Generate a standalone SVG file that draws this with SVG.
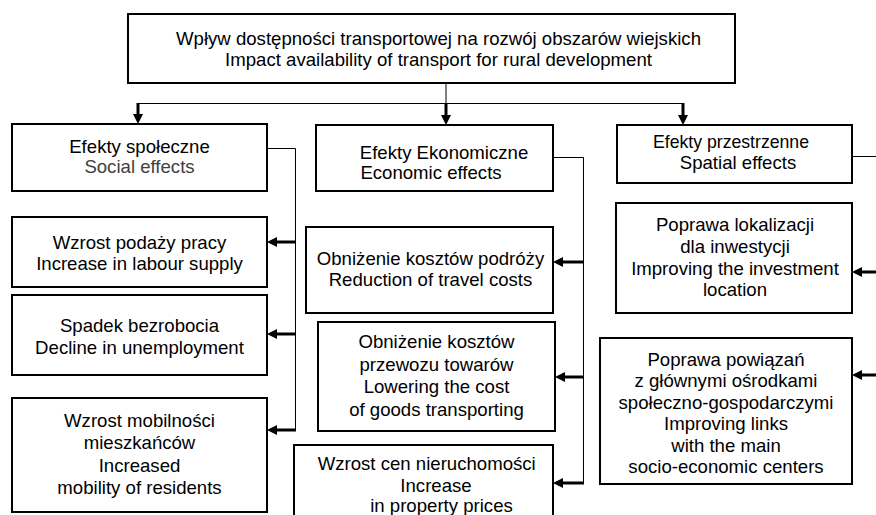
<svg xmlns="http://www.w3.org/2000/svg" width="876" height="515" viewBox="0 0 876 515">
<style>
.box{fill:#fff;stroke:#000;stroke-width:2}
.t{font-family:"Liberation Sans",Arial,sans-serif;font-size:18.6px;fill:#000;text-anchor:middle}
.gray{fill:#404040}
.thin{stroke:#000;stroke-width:1;fill:none}
.arr{stroke:#000;stroke-width:3;fill:none;marker-end:url(#ah)}
</style>
<defs>
<marker id="ah" markerUnits="userSpaceOnUse" viewBox="0 0 10 10" markerWidth="10" markerHeight="10" refX="0" refY="5" orient="auto">
<path d="M0,0 L10,5 L0,10 z" fill="#000"/>
</marker>
</defs>
<rect width="876" height="515" fill="#fff"/>

<g id="connectors">
<path class="thin" d="M138,103.5 H683 M446,83 V103.5"/>
<path class="arr" d="M138,103 V114"/>
<path class="arr" d="M446,103 V115"/>
<path class="arr" d="M683,103 V115"/>
<path class="thin" d="M267,148.5 H295.5 V430"/>
<path class="arr" d="M296,242 H277"/>
<path class="arr" d="M296,334 H277"/>
<path class="arr" d="M296,430 H277"/>
<path class="thin" d="M553,157.5 H583.5 V483"/>
<path class="arr" d="M584,262 H563"/>
<path class="arr" d="M584,377 H565"/>
<path class="arr" d="M584,483 H563"/>
<path class="thin" d="M852,156.5 H876"/>
<path class="arr" d="M880,272 H862"/>
<path class="arr" d="M880,375 H862"/>
</g>

<g id="top">
<rect class="box" x="128" y="14" width="607" height="69"/>
<text class="t" x="438.5" y="45">Wpływ dostępności transportowej na rozwój obszarów wiejskich</text>
<text class="t" x="438.5" y="66">Impact availability of transport for rural development</text>
</g>

<g id="social">
<rect class="box" x="12" y="124" width="255" height="67"/>
<text class="t" x="139.5" y="153">Efekty społeczne</text>
<text class="t gray" x="139.5" y="173">Social effects</text>
</g>

<g id="economic">
<rect class="box" x="316" y="125" width="237" height="66"/>
<text class="t" x="444" y="158.5">Efekty Ekonomiczne</text>
<text class="t" x="431" y="178.5">Economic effects</text>
</g>

<g id="spatial">
<rect class="box" x="617" y="125" width="235" height="58"/>
<text class="t" x="731" y="148" textLength="156" lengthAdjust="spacingAndGlyphs">Efekty przestrzenne</text>
<text class="t" x="738" y="169">Spatial effects</text>
</g>

<g id="labour">
<rect class="box" x="12" y="217" width="255" height="70"/>
<text class="t" x="139.5" y="248.5">Wzrost podaży pracy</text>
<text class="t" x="139.5" y="270">Increase in labour supply</text>
</g>

<g id="unemployment">
<rect class="box" x="12" y="295" width="255" height="80"/>
<text class="t" x="139.5" y="332">Spadek bezrobocia</text>
<text class="t" x="139.5" y="353.5">Decline in unemployment</text>
</g>

<g id="mobility">
<rect class="box" x="12" y="398" width="255" height="114"/>
<text class="t" x="139.5" y="427">Wzrost mobilności</text>
<text class="t" x="139.5" y="449">mieszkańców</text>
<text class="t" x="139.5" y="471.5">Increased</text>
<text class="t" x="139.5" y="493.5">mobility of residents</text>
</g>

<g id="travel">
<rect class="box" x="306" y="227" width="247" height="86"/>
<text class="t" x="430.5" y="264.5">Obniżenie kosztów podróży</text>
<text class="t" x="430.5" y="286">Reduction of travel costs</text>
</g>

<g id="goods">
<rect class="box" x="318" y="322" width="237" height="109"/>
<text class="t" x="436.5" y="348">Obniżenie kosztów</text>
<text class="t" x="436.5" y="370.5">przewozu towarów</text>
<text class="t" x="436.5" y="393">Lowering the cost</text>
<text class="t" x="436.5" y="415.5">of goods transporting</text>
</g>

<g id="property">
<rect class="box" x="294" y="445" width="259" height="90"/>
<text class="t" x="426.7" y="470">Wzrost cen nieruchomości</text>
<text class="t" x="436" y="491.5">Increase</text>
<text class="t" x="441.5" y="512">in property prices</text>
</g>

<g id="investment">
<rect class="box" x="616" y="203" width="236" height="110"/>
<text class="t" x="735" y="231.2">Poprawa lokalizacji</text>
<text class="t" x="735" y="252.7">dla inwestycji</text>
<text class="t" x="735" y="274.5">Improving the investment</text>
<text class="t" x="735" y="296">location</text>
</g>

<g id="links">
<rect class="box" x="600" y="338" width="252" height="146"/>
<text class="t" x="726" y="365.5">Poprawa powiązań</text>
<text class="t" x="726" y="387">z głównymi ośrodkami</text>
<text class="t" x="726" y="408.8">społeczno-gospodarczymi</text>
<text class="t" x="726" y="430.4">Improving links</text>
<text class="t" x="726" y="451.9">with the main</text>
<text class="t" x="726" y="473.2">socio-economic centers</text>
</g>
</svg>
